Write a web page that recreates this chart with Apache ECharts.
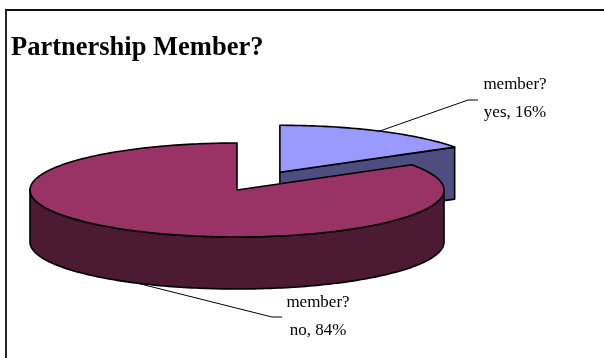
<!DOCTYPE html>
<html>
<head>
<meta charset="utf-8">
<script src="https://cdn.jsdelivr.net/npm/echarts@6/dist/echarts.min.js"></script>
<style>
  html, body { margin: 0; padding: 0; background: #fff; }
  #chart { width: 604px; height: 358px; }
</style>
</head>
<body>
<div id="chart"></div>
<script>
// Survey answers for "member?"
const seriesName = 'member?';
const categories = ['yes', 'no'];
const values = [16, 84];

// Top-face and side colours for each answer
const topColors = ['#9999FF', '#993366'];
const sideColors = ['#4D4D80', '#4D1A33'];

// Geometry of the tilted pie (screen pixels)
const pie = { cx: 237, cy: 190, rx: 207, ry: 47, depth: 52 };
const explode = [0.43, 0];
// Where each label sits and where its leader bends
const labelLayout = [
  { x: 515, y: 85, elbow: [468, 100], end: [478, 100] },
  { x: 318, y: 303, elbow: [272, 317], end: [282, 317] }
];

const total = values.reduce((a, b) => a + b, 0);
const angles = [];
let acc = 0;
values.forEach(v => {
  const a0 = acc / total * Math.PI * 2;
  acc += v;
  angles.push([a0, acc / total * Math.PI * 2]);
});

function pt(c, a, dz) {
  return [c[0] + pie.rx * Math.sin(a), c[1] - pie.ry * Math.cos(a) + (dz || 0)];
}
function arc(c, a0, a1, dz) {
  const pts = [];
  const n = Math.max(2, Math.ceil(Math.abs(a1 - a0) / 0.02));
  for (let i = 0; i <= n; i++) pts.push(pt(c, a0 + (a1 - a0) * i / n, dz));
  return pts;
}

const edge = { stroke: '#000', lineWidth: 1.6, lineJoin: 'round' };

function renderSlice(params, api) {
  const i = params.dataIndex;
  const [a0, a1] = angles[i];
  const mid = (a0 + a1) / 2;
  const k = explode[i];
  const c = [pie.cx + k * pie.rx * Math.sin(mid), pie.cy - k * pie.ry * Math.cos(mid)];
  const d = pie.depth;
  const children = [];

  // flat cut faces that turn toward the viewer
  const cuts = [];
  if (Math.sin(a0) < -1e-6) cuts.push(a0);
  if (Math.sin(a1) > 1e-6) cuts.push(a1);
  cuts.forEach(a => {
    const r = pt(c, a);
    children.push({
      type: 'polygon',
      shape: { points: [c, r, [r[0], r[1] + d], [c[0], c[1] + d]] },
      style: Object.assign({ fill: sideColors[i] }, edge)
    });
  });

  // outer wall on the front half of the ellipse
  const s = Math.max(a0, Math.PI / 2), e = Math.min(a1, Math.PI * 1.5);
  if (e > s) {
    const topArc = arc(c, s, e, 0);
    const botArc = arc(c, e, s, d);
    children.push({
      type: 'polygon',
      shape: { points: topArc.concat(botArc) },
      style: Object.assign({ fill: sideColors[i] }, edge)
    });
  }

  // top face
  children.push({
    type: 'polygon',
    shape: { points: [c].concat(arc(c, a0, a1, 0)) },
    style: Object.assign({ fill: topColors[i] }, edge)
  });

  // leader line and label
  const L = labelLayout[i];
  const front = Math.cos(mid) < 0;
  const anchor = pt(c, mid, front ? d : 0);
  children.push({
    type: 'polyline',
    shape: { points: [anchor, L.elbow, L.end] },
    style: { stroke: '#000', lineWidth: 1, fill: null }
  });
  const pct = Math.round(values[i] / total * 100);
  children.push({
    type: 'text',
    style: {
      text: seriesName + '\n' + categories[i] + ', ' + pct + '%',
      x: L.x, y: L.y,
      align: 'center', verticalAlign: 'middle',
      font: '17px "Liberation Serif"',
      lineHeight: 28,
      fill: '#000'
    },
    // shift so the first line is centred on L.y
    y: 14
  });

  return { type: 'group', children };
}

const chart = echarts.init(document.getElementById('chart'), null, { renderer: 'canvas' });
chart.setOption({
  animation: false,
  backgroundColor: '#fff',
  title: {
    text: 'Partnership Member?',
    left: 6, top: 30,
    textStyle: { fontFamily: 'Liberation Serif', fontWeight: 'bold', fontSize: 26.5, color: '#000' }
  },
  graphic: [{
    type: 'rect',
    shape: { x: 6, y: 10, width: 700, height: 400 },
    style: { fill: null, stroke: '#111', lineWidth: 1.8 },
    z: 100
  }],
  series: [{
    type: 'custom',
    name: seriesName,
    coordinateSystem: 'none',
    data: categories.map((c, i) => ({ name: c, value: values[i] })),
    renderItem: renderSlice
  }]
});
</script>
</body>
</html>
